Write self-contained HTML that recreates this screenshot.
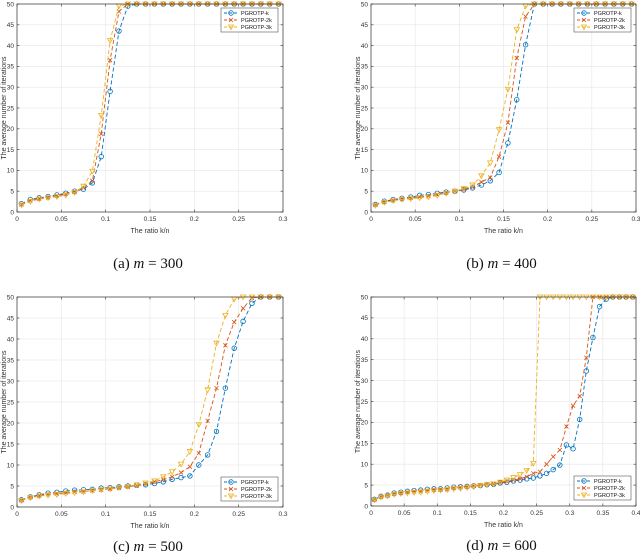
<!DOCTYPE html>
<html><head><meta charset="utf-8"><style>
body{margin:0;background:#fff;}
svg{display:block;font-family:"Liberation Sans",sans-serif;}
</style></head><body>
<svg id="fig" width="640" height="559" viewBox="0 0 640 559"></svg>
<script>
const xA=[0.005,0.015,0.025,0.035,0.045,0.055,0.065,0.075,0.085,0.095,0.105,0.115,0.125,0.135,0.145,0.155,0.165,0.175,0.185,0.195,0.205,0.215,0.225,0.235,0.245,0.255,0.265,0.275,0.285,0.295];
const xD=[0.005,0.015,0.025,0.035,0.045,0.055,0.065,0.075,0.085,0.095,0.105,0.115,0.125,0.135,0.145,0.155,0.165,0.175,0.185,0.195,0.205,0.215,0.225,0.235,0.245,0.255,0.265,0.275,0.285,0.295,0.305,0.315,0.325,0.335,0.345,0.355,0.365,0.375,0.385,0.395];
const aK=[2,3,3.4,3.7,4.1,4.5,5,5.5,7,13.3,29,43.5,49.5,50,50,50,50,50,50,50,50,50,50,50,50,50,50,50,50,50];
const a2K=[1.8,2.7,3.2,3.5,3.9,4.3,4.8,5.8,7.5,18.8,36.5,48.2,50,50,50,50,50,50,50,50,50,50,50,50,50,50,50,50,50,50];
const a3K=[1.7,2.5,3.1,3.4,3.7,4,4.7,6.2,9.8,23.2,41.2,49.5,50,50,50,50,50,50,50,50,50,50,50,50,50,50,50,50,50,50];
const bK=[1.8,2.6,3,3.3,3.6,4,4.2,4.5,4.8,5,5.3,5.8,6.5,7.5,9.5,16.6,27,40.2,50,50,50,50,50,50,50,50,50,50,50,50];
const b2K=[1.7,2.4,2.8,3.1,3.4,3.6,3.8,4.2,4.6,5,5.5,6,7.2,8.3,13.3,21.5,37,47,50,50,50,50,50,50,50,50,50,50,50,50];
const b3K=[1.6,2.3,2.7,3,3.2,3.4,3.6,4,4.5,5,5.6,6.5,8.7,11.8,19.8,29.5,43.8,49.5,50,50,50,50,50,50,50,50,50,50,50,50];
const cK=[1.7,2.4,2.9,3.3,3.5,3.8,4,4.1,4.2,4.5,4.6,4.8,5,5.2,5.3,5.6,6,6.6,7,7.4,10,12.4,18,28.3,37.8,44.2,48.5,50,50,50];
const c2K=[1.6,2.3,2.7,3,3.2,3.4,3.6,3.7,3.9,4.1,4.3,4.5,4.8,5.1,5.5,6,6.5,7.2,8.2,9.6,12.8,20.5,28.3,38.5,44,47.3,49.8,50,50,50];
const c3K=[1.5,2.2,2.6,2.8,3,3.2,3.4,3.6,3.9,4.1,4.3,4.6,4.9,5.3,5.7,6.2,7.2,8.4,10.2,13.2,19.6,27.9,39,45.6,49.5,50,50,50,50,50];
const dK=[1.6,2.3,2.6,3.1,3.3,3.5,3.7,3.8,4,4.1,4.1,4.3,4.5,4.6,4.7,4.8,4.9,5.1,5.2,5.5,5.7,6,6.2,6.5,6.7,7.2,7.8,8.7,9.8,14.6,13.7,20.7,32.3,40.3,47.7,49.5,50,50,50,50];
const d2K=[1.5,2.2,2.5,2.9,3.1,3.3,3.5,3.5,3.7,3.9,3.9,4,4.3,4.5,4.6,4.8,5,5.2,5.3,5.6,5.9,6.2,6.5,7,7.8,8.2,10,11.8,13.4,19,24,26.3,35.5,50,50,50,50,50,50,50];
const d3K=[1.4,2.1,2.4,2.8,3,3.1,3.2,3.3,3.5,3.7,3.8,3.9,4.1,4.2,4.4,4.6,4.9,5.1,5.3,5.7,6.2,6.8,7.5,8.5,10.2,50,50,50,50,50,50,50,50,50,50,50,50,50,50,50];
const ticks3=["0","0.05","0.1","0.15","0.2","0.25","0.3"];
const ticks4=["0","0.05","0.1","0.15","0.2","0.25","0.3","0.35","0.4"];
const yTicks=[0,5,10,15,20,25,30,35,40,45,50];
const seriesNames=["PGROTP-k","PGROTP-2k","PGROTP-3k"];
const colors=["#0072BD","#D95319","#EDB120"];
const NS="http://www.w3.org/2000/svg";
const svg=document.getElementById('fig');
function mk(tag,attrs,parent){const e=document.createElementNS(NS,tag);for(const k in attrs)e.setAttribute(k,attrs[k]);(parent||svg).appendChild(e);return e;}
function marker(g,type,x,y,c){
  if(type===0){const m=mk('circle',{cx:x,cy:y,r:2.3,fill:'none',stroke:c,'stroke-width':0.8},g);}
  else if(type===1){const m=mk('path',{d:`M${x-2},${y-2}L${x+2},${y+2}M${x-2},${y+2}L${x+2},${y-2}`,stroke:c,'stroke-width':0.8,fill:'none'},g);}
  else {const m=mk('path',{d:`M${x-2.6},${y-2}L${x+2.6},${y-2}L${x},${y+2.6}Z`,stroke:c,'stroke-width':0.8,fill:'none'},g);}
}
function panel(id,L,R,T,B,xmax,ticks,xs,series,legendTop,caption){
  const g=mk('g',{});
  
  
  const X=v=>L+(v/xmax)*(R-L), Y=v=>B-(v/50)*(B-T);
  const bg=mk('rect',{x:L,y:T,width:R-L,height:B-T,fill:'#fff'},g);
  
  
  ticks.forEach((t,i)=>{const v=i*0.05;const x=X(v);
    const gl=mk('line',{x1:x,x2:x,y1:T,y2:B,stroke:'#e6e6e6','stroke-width':0.6},g);
    
    mk('line',{x1:x,x2:x,y1:B,y2:B-2.5,stroke:'#333','stroke-width':0.6},g);
    mk('line',{x1:x,x2:x,y1:T,y2:T+2.5,stroke:'#333','stroke-width':0.6},g);
    const tx=mk('text',{x:x,y:B+9,'font-size':6.5,'text-anchor':'middle',fill:'#333'},g);tx.textContent=t;
    });
  yTicks.forEach(v=>{const y=Y(v);
    const gl=mk('line',{x1:L,x2:R,y1:y,y2:y,stroke:'#e6e6e6','stroke-width':0.6},g);
    
    mk('line',{x1:L,x2:L+2.5,y1:y,y2:y,stroke:'#333','stroke-width':0.6},g);
    mk('line',{x1:R,x2:R-2.5,y1:y,y2:y,stroke:'#333','stroke-width':0.6},g);
    const tx=mk('text',{x:L-3,y:y+2.3,'font-size':6.5,'text-anchor':'end',fill:'#333'},g);tx.textContent=v;
    });
  series.forEach((s,si)=>{
    const pts=s.map((v,i)=>X(xs[i]).toFixed(2)+','+Y(v).toFixed(2)).join(' ');
    const pl=mk('polyline',{points:pts,fill:'none',stroke:colors[si],'stroke-width':0.9,'stroke-dasharray':'4,2.5'},g);
    
    s.forEach((v,i)=>marker(g,si,X(xs[i]),Y(v),colors[si]));
  });
  const ax=mk('rect',{x:L,y:T,width:R-L,height:B-T,fill:'none',stroke:'#333','stroke-width':0.7},g);
  
  const xl=mk('text',{x:(L+R)/2,y:B+21,'font-size':7,'text-anchor':'middle',fill:'#333'},g);xl.textContent='The ratio k/n';
  
  const yl=mk('text',{x:0,y:0,'font-size':7,'text-anchor':'middle',fill:'#333',transform:`translate(${L-11},${(T+B)/2}) rotate(-90)`},g);yl.textContent='The average number of iterations';
  
  const lx=R-62, ly=legendTop?T+4:B-30;
  const lg=mk('g',{},g);
  
  mk('rect',{x:lx,y:ly,width:57,height:24,fill:'#fff',stroke:'#333','stroke-width':0.5},lg);
  seriesNames.forEach((n,i)=>{const yy=ly+5+i*7;
    mk('line',{x1:lx+3,x2:lx+17,y1:yy,y2:yy,stroke:colors[i],'stroke-width':0.9,'stroke-dasharray':'3,2'},lg);
    marker(lg,i,lx+10,yy,colors[i]);
    const t=mk('text',{x:lx+20,y:yy+2,'font-size':5.5,fill:'#111'},lg);t.textContent=n;
    });
  const cap=mk('text',{x:(L+R)/2-2,y:legendTop?B+56:B+44,'font-size':15,'text-anchor':'middle',fill:'#111','font-family':'Liberation Serif, serif'},g);
  cap.innerHTML=caption;
  
}
panel('a',17,283,4,212,0.3,ticks3,xA,[aK,a2K,a3K],true,'(a) <tspan font-style="italic">m</tspan> = 300');
panel('b',371,636,4,212,0.3,ticks3,xA,[bK,b2K,b3K],true,'(b) <tspan font-style="italic">m</tspan> = 400');
panel('c',17,283,297,507,0.3,ticks3,xA,[cK,c2K,c3K],false,'(c) <tspan font-style="italic">m</tspan> = 500');
panel('d',371,636,297,506,0.4,ticks4,xD,[dK,d2K,d3K],false,'(d) <tspan font-style="italic">m</tspan> = 600');
</script>
</body></html>
